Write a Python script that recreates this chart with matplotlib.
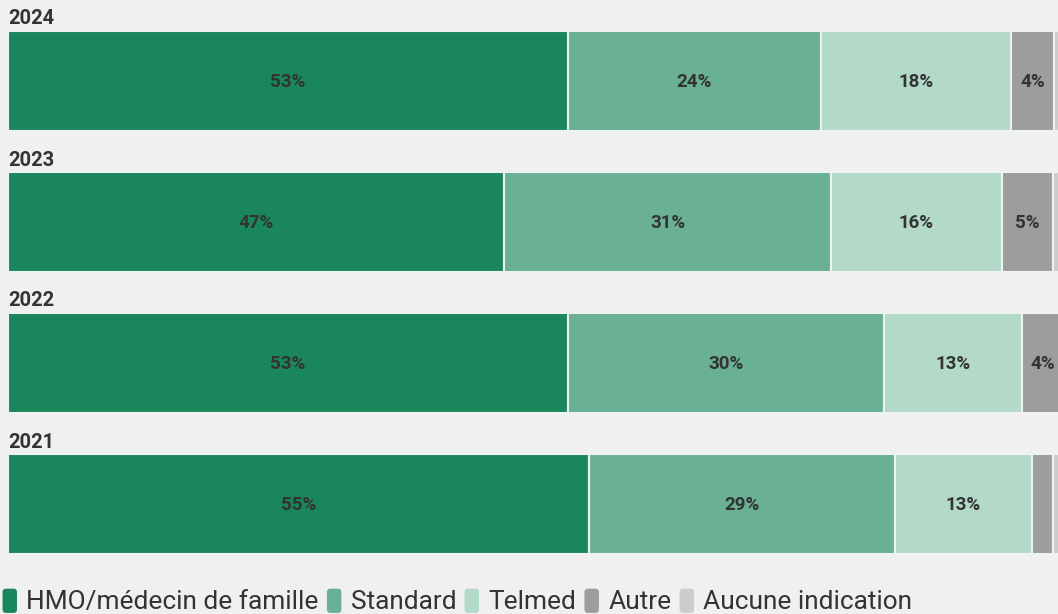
import matplotlib
matplotlib.use("Agg")
import matplotlib.pyplot as plt
from matplotlib.patches import Patch, FancyBboxPatch
from matplotlib.legend_handler import HandlerPatch

years = ["2024", "2023", "2022", "2021"]
categories = ["HMO/médecin de famille", "Standard", "Telmed", "Autre", "Aucune indication"]
hmo = [53.0, 46.9, 53.0, 55.0]
standard = [23.9, 31.0, 29.9, 28.9]
telmed = [18.0, 16.1, 13.0, 13.0]
autre = [4.1, 4.9, 4.0, 2.0]
aucune = [1.0, 1.1, 0.1, 1.1]
series = [hmo, standard, telmed, autre, aucune]
colors = ["#1a865c", "#69b094", "#b3d9c9", "#9d9d9d", "#cdcdcd"]
min_label = 3.5

plt.rcParams['font.family'] = ['Roboto', 'DejaVu Sans']
W, H = 1058, 614
fig = plt.figure(figsize=(W / 100, H / 100), dpi=100)
bg = "#f0f0f0"
fig.patch.set_facecolor(bg)

ax = fig.add_axes([8 / W, 0, 1057 / W, 1])
ax.set_facecolor(bg)
ax.set_xlim(0, 100)
ax.set_ylim(H, 0)
ax.axis("off")

bar_h = 100
first_center = 81
step = 141
for i, yr in enumerate(years):
    yc = first_center + i * step
    left = 0
    for s, col in zip(series, colors):
        v = s[i]
        ax.barh(yc, v, left=left, height=bar_h, color=col, edgecolor="#eef2f0", linewidth=1.5)
        if v >= min_label:
            ax.text(left + v / 2, yc + 1, f"{round(v)}%", ha="center", va="center",
                    fontsize=13.5, fontweight="bold", color="#333333")
        left += v
    ax.text(0, yc - bar_h / 2 - 2.5, yr, ha="left", va="bottom", fontsize=14.5,
            fontweight="bold", color="#333333")


class RoundHandler(HandlerPatch):
    def create_artists(self, legend, orig_handle, xdescent, ydescent, width, height, fontsize, trans):
        p = FancyBboxPatch((-xdescent, -ydescent - 2), width, height + 3,
                           boxstyle="round,pad=0,rounding_size=2.5",
                           facecolor=orig_handle.get_facecolor(), edgecolor="none",
                           transform=trans)
        return [p]


handles = [Patch(facecolor=c, edgecolor="none", label=l) for c, l in zip(colors, categories)]
leg = fig.legend(handles=handles, loc="lower left", bbox_to_anchor=(-0.0125, -0.026), ncol=5,
                 frameon=False, fontsize=18.9, handlelength=0.55, handleheight=0.8,
                 handletextpad=0.35, columnspacing=0.32, borderaxespad=0.2,
                 labelcolor="#333333",
                 handler_map={Patch: RoundHandler()})
fig.savefig("out.png", dpi=100, facecolor=bg)
